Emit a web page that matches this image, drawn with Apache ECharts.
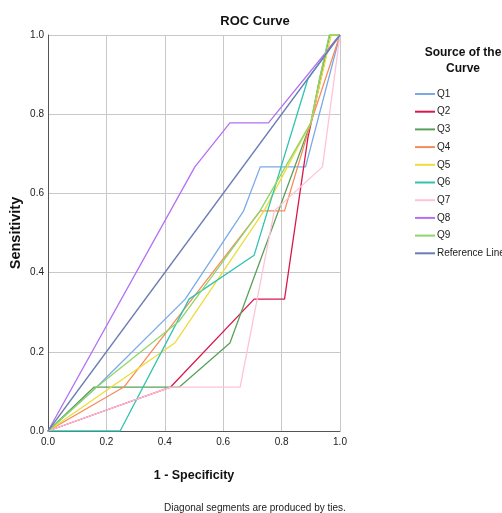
<!DOCTYPE html>
<html>
<head>
<meta charset="utf-8">
<script src="https://cdn.jsdelivr.net/npm/echarts@6/dist/echarts.min.js"></script>
<style>
  html, body { margin: 0; padding: 0; background: #fff; }
  #main { width: 502px; height: 513px; }
</style>
</head>
<body>
<div id="main"></div>
<script>
// ROC points [1 - specificity, sensitivity]
var q1 = [[0, 0], [0.167, 0.111], [0.47, 0.333], [0.67, 0.556], [0.727, 0.667], [0.882, 0.667], [1, 1]];
var q2 = [[0, 0], [0.42, 0.111], [0.706, 0.333], [0.81, 0.333], [0.89, 0.74], [0.955, 0.96], [1, 1]];
var q3 = [[0, 0], [0.158, 0.111], [0.45, 0.111], [0.623, 0.222], [0.9, 0.778], [0.93, 0.889], [0.965, 1], [1, 1]];
var q4 = [[0, 0], [0.26, 0.111], [0.727, 0.556], [0.81, 0.556], [0.9, 0.778], [1, 1]];
var q5 = [[0, 0], [0.434, 0.222], [0.74, 0.556], [0.9, 0.778], [0.97, 1], [1, 1]];
var q6 = [[0, 0], [0.247, 0], [0.483, 0.333], [0.706, 0.444], [0.89, 0.889], [1, 1]];
var q7 = [[0, 0], [0.42, 0.111], [0.658, 0.111], [0.775, 0.556], [0.94, 0.667], [1, 1]];
var q8 = [[0, 0], [0.503, 0.667], [0.623, 0.778], [0.755, 0.778], [1, 1]];
var q9 = [[0, 0], [0.167, 0.111], [0.45, 0.278], [0.726, 0.556], [0.9, 0.778], [0.93, 0.889], [0.963, 1], [1, 1]];
var refLine = [[0, 0], [1, 1]];

var seriesNames = ['Q1', 'Q2', 'Q3', 'Q4', 'Q5', 'Q6', 'Q7', 'Q8', 'Q9', 'Reference Line'];
var seriesData = [q1, q2, q3, q4, q5, q6, q7, q8, q9, refLine];
var colors = ['#7aaae8', '#d9184c', '#5aa05a', '#f68b5b', '#ecdc3c', '#2fc3b0', '#ffc3d8', '#b470f5', '#8ed66a', '#6b7db3'];

var font = "'Liberation Sans', Arial, sans-serif";

var chart = echarts.init(document.getElementById('main'));

var series = seriesNames.map(function (name, i) {
    return {
        name: name,
        type: 'line',
        data: seriesData[i],
        symbol: 'none',
        animation: false,
        lineStyle: { width: 1.3, color: colors[i] },
        itemStyle: { color: colors[i] }
    };
});

chart.setOption({
    animation: false,
    title: [{
        text: 'ROC Curve',
        left: 250,
        textAlign: 'center',
        top: 10,
        textStyle: { fontFamily: font, fontSize: 13, fontWeight: 'bold', color: '#111' }
    }, {
        text: 'Source of the\nCurve',
        left: 458,
        textAlign: 'center',
        top: 40,
        textStyle: { fontFamily: font, fontSize: 12, fontWeight: 'bold', color: '#111', lineHeight: 16 }
    }, {
        text: 'Diagonal segments are produced by ties.',
        left: 250,
        textAlign: 'center',
        top: 498,
        textStyle: { fontFamily: font, fontSize: 10, fontWeight: 'normal', color: '#222' }
    }],
    legend: {
        orient: 'vertical',
        left: 415,
        top: 89,
        padding: 0,
        itemWidth: 20,
        itemHeight: 2,
        itemGap: 7.7,
        icon: 'rect',
        data: seriesNames,
        textStyle: { fontFamily: font, fontSize: 10, color: '#222', padding: [0, 0, 0, -3] }
    },
    grid: { left: 48, right: 162, top: 35, bottom: 82, containLabel: false, outerBoundsMode: 'none' },
    xAxis: {
        type: 'value',
        min: 0, max: 1, interval: 0.2,
        name: '1 - Specificity',
        nameLocation: 'middle',
        nameGap: 38,
        nameMoveOverlap: false,
        nameTextStyle: { fontFamily: font, fontSize: 12.5, fontWeight: 'bold', color: '#111' },
        axisLine: { show: true, lineStyle: { color: '#555', width: 1 } },
        axisTick: { show: false },
        axisLabel: { fontFamily: font, fontSize: 10, color: '#222', margin: 6,
            formatter: function (v) { return v.toFixed(1); } },
        splitLine: { show: true, lineStyle: { color: '#c8c8c8', width: 1 } }
    },
    yAxis: {
        type: 'value',
        min: 0, max: 1, interval: 0.2,
        name: 'Sensitivity',
        nameLocation: 'middle',
        nameGap: 25,
        nameMoveOverlap: false,
        nameTextStyle: { fontFamily: font, fontSize: 14.5, fontWeight: 'bold', color: '#111' },
        axisLine: { show: true, lineStyle: { color: '#555', width: 1 } },
        axisTick: { show: false },
        axisLabel: { fontFamily: font, fontSize: 10, color: '#222', margin: 4,
            formatter: function (v) { return v.toFixed(1); } },
        splitLine: { show: true, lineStyle: { color: '#c8c8c8', width: 1 } }
    },
    series: series
});
</script>
</body>
</html>
